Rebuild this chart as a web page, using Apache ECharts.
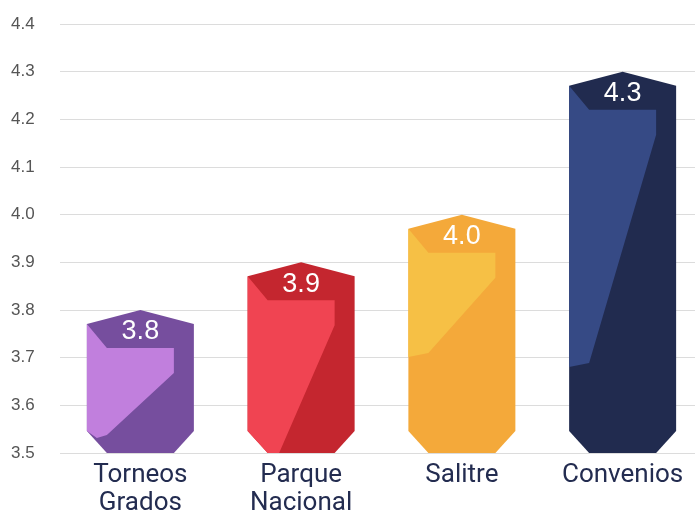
<!DOCTYPE html>
<html>
<head>
<meta charset="utf-8">
<script src="https://cdn.jsdelivr.net/npm/echarts@6/dist/echarts.min.js"></script>
<style>
  html, body { margin: 0; padding: 0; background: #fff; }
  #chart { width: 695px; height: 510px; }
</style>
</head>
<body>
<div id="chart"></div>
<script>
// datos
var categories = ['Torneos\nGrados', 'Parque\nNacional', 'Salitre', 'Convenios']
var values = [3.8, 3.9, 4.0, 4.3]
var yMin = 3.5
var yMax = 4.4
var yStep = 0.1

// colores: cara clara / cara oscura
var lightColors = ['#c17fdd', '#f04452', '#f6c045', '#364a85']
var darkColors = ['#764e9e', '#c4262f', '#f4a93a', '#212b4f']
// sombra: [endDx, endUp, footDx, footUp] en px respecto al centro / base
var shades = [
    [-33.5, 18, -43.5, 15],
    [-22, 0, -33.5, 0],
    [-33.5, 100, -53.5, 96],
    [-33.5, 90, -53.5, 86]
]

var chart = echarts.init(document.getElementById('chart'))

function renderItem (params, api) {
    var idx = api.value(0)
    var top = api.coord([idx, api.value(1)])
    var base = api.coord([idx, yMin])
    var w = 107
    var k = 1
    var cx = top[0]
    var yT = top[1]
    var yB = base[1]
    var xL = cx - w / 2
    var xR = cx + w / 2
    var xIL = cx - 33.5 * k
    var xIR = cx + 33.5 * k
    var yC = yT + 14
    var yI = yT + 38
    var yBC = yB - 22

    var body = [[cx, yT], [xR, yC], [xR, yBC], [xIR, yB], [xIL, yB], [xL, yBC], [xL, yC]]

    var s = shades[idx]
    var endP = [cx + s[0] * k, yB - s[1]]
    var footP = [cx + s[2] * k, yB - s[3]]
    var light = [[xL, yC], [xIL, yI], [xIR, yI], [xIR, yI + 25], endP, footP]
    if (footP[1] > yBC) light.push([xL, yBC])

    return {
        type: 'group',
        children: [
            {
                type: 'polygon',
                shape: { points: body },
                style: { fill: darkColors[idx] }
            },
            {
                type: 'polygon',
                shape: { points: light },
                style: { fill: lightColors[idx] }
            },
            {
                type: 'text',
                style: {
                    x: cx,
                    y: yT + 22,
                    text: api.value(1).toFixed(1),
                    fill: '#fff',
                    font: '27px "Liberation Sans", Arial, sans-serif',
                    align: 'center',
                    verticalAlign: 'middle'
                }
            }
        ]
    }
}

var option = {
    animation: false,
    grid: {
        left: 60,
        right: -8,
        top: 24,
        bottom: 57,
        outerBoundsMode: 'none',
        containLabel: false
    },
    xAxis: {
        type: 'category',
        data: categories,
        axisTick: { show: false },
        axisLine: { show: false },
        axisLabel: {
            margin: 8,
            color: '#232c50',
            fontSize: 26,
            lineHeight: 28,
            fontFamily: 'Roboto'
        }
    },
    yAxis: {
        type: 'value',
        min: yMin,
        max: yMax,
        interval: yStep,
        axisLine: { show: false },
        axisTick: { show: false },
        axisLabel: {
            align: 'left',
            margin: 49,
            color: '#555',
            fontSize: 17,
            fontFamily: 'Liberation Sans',
            formatter: function (v) { return v.toFixed(1) }
        },
        splitLine: {
            lineStyle: { color: '#dcdcdc', width: 1 }
        }
    },
    series: [
        {
            type: 'custom',
            renderItem: renderItem,
            encode: { x: 0, y: 1 },
            data: values.map(function (v, i) { return [i, v] })
        }
    ]
}
chart.setOption(option)
</script>
</body>
</html>
